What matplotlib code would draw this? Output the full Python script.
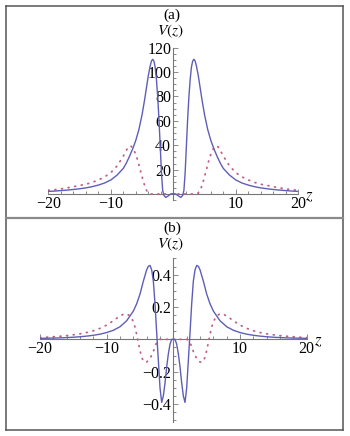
import matplotlib
matplotlib.use("Agg")
import matplotlib.pyplot as plt
from matplotlib.lines import Line2D
from matplotlib.ticker import MultipleLocator, FixedLocator, FuncFormatter

plt.rcParams['font.family'] = ['Liberation Serif', 'DejaVu Serif']
plt.rcParams['mathtext.fontset'] = 'stix'

# ---------------- data ----------------
z_a = [-20, -19, -18, -17, -16, -15, -14, -13, -12, -11, -10, -9, -8, -7.5, -7, -6.5, -6,
       -5.5, -5, -4.6, -4.3, -4, -3.7, -3.5, -3.3, -3.1, -2.9, -2.7, -2.5, -2.3, -2.1,
       -1.9, -1.7, -1.5, -1.2, -0.8, -0.4, 0, 0.4, 0.8, 1.2, 1.5, 1.7, 1.9, 2.1, 2.3,
       2.5, 2.7, 2.9, 3.1, 3.3, 3.5, 3.7, 4, 4.3, 4.6, 5, 5.5, 6, 6.5, 7, 7.5, 8, 9,
       10, 11, 12, 13, 14, 15, 16, 17, 18, 19, 20]
solid_a = [2.1, 2.4, 2.8, 3.2, 3.7, 4.3, 5.0, 6.0, 7.3, 9.0, 11.5, 15.5, 21, 25.5, 31,
           37, 44, 53, 65, 77, 87, 97, 105, 109, 110.5, 109, 104, 94, 80, 62, 40,
           18, 3, -1.2, -2.8, -1.5, 0, 0.3, 0, -1.5, -2.8, -1.2, 3, 18, 40, 62,
           80, 94, 104, 109, 110.5, 109, 105, 97, 87, 77, 65, 53, 44, 37, 31, 25.5, 21, 15.5,
           11.5, 9.0, 7.3, 6.0, 5.0, 4.3, 3.7, 3.2, 2.8, 2.4, 2.1]

zd_a = [-20, -19, -18, -17, -16, -15, -14, -13, -12, -11, -10, -9, -8.5, -8, -7.6, -7.2,
        -6.8, -6.4, -6, -5.6, -5.2, -4.8, -4.4, -4, -3.6, -2, 0, 2, 3.6, 4, 4.4, 4.8,
        5.2, 5.6, 6, 6.4, 6.8, 7.2, 7.6, 8, 8.5, 9, 10, 11, 12, 13, 14, 15, 16, 17,
        18, 19, 20]
dotted_a = [3.0, 3.5, 4.2, 5.0, 6.0, 7.0, 8.0, 9.5, 11.5, 14, 17.5, 23, 27, 31, 35, 38.5,
            39.5, 37, 32.5, 26, 18, 10.5, 4, 0.8, 0, 0, 0, 0, 0, 0.8, 4, 10.5,
            18, 26, 32.5, 37, 39.5, 38.5, 35, 31, 27, 23, 17.5, 14, 11.5, 9.5, 8.0, 7.0, 6.0, 5.0,
            4.2, 3.5, 3.0]

z_b = [-20, -19, -18, -17, -16, -15, -14, -13, -12, -11, -10, -9, -8, -7, -6, -5.5, -5,
       -4.5, -4, -3.75, -3.5, -3.25, -3, -2.75, -2.5, -2.25, -2, -1.75, -1.5, -1.25, -1,
       -0.75, -0.5, -0.25, 0, 0.25, 0.5, 0.75, 1, 1.25, 1.5, 1.75, 2, 2.25, 2.5, 2.75,
       3, 3.25, 3.5, 3.75, 4, 4.5, 5, 5.5, 6, 7, 8, 9, 10, 11, 12, 13, 14, 15, 16, 17,
       18, 19, 20]
solid_b = [0.006, 0.007, 0.008, 0.009, 0.011, 0.013, 0.016, 0.020, 0.025, 0.032, 0.042,
           0.056, 0.078, 0.115, 0.175, 0.22, 0.28, 0.36, 0.43, 0.452, 0.457, 0.43, 0.36,
           0.22, 0.04, -0.13, -0.30, -0.39, -0.35, -0.27, -0.17, -0.09, -0.03, 0, 0,
           0, -0.03, -0.09, -0.17, -0.27, -0.35, -0.39, -0.30, -0.13, 0.04, 0.22,
           0.36, 0.43, 0.457, 0.452, 0.43, 0.36, 0.28, 0.22, 0.175, 0.115, 0.078, 0.056,
           0.042, 0.032, 0.025, 0.020, 0.016, 0.013, 0.011, 0.009, 0.008, 0.007, 0.006]

zd_b = [-20, -19, -18, -17, -16, -15, -14, -13, -12, -11, -10, -9, -8, -7.5, -7, -6.5,
        -6, -5.75, -5.5, -5.25, -5, -4.75, -4.5, -4.25, -4, -3.5, -3, -2.75, -2.5, -2.25,
        -2, 0, 2, 2.25, 2.5, 2.75, 3, 3.5, 4, 4.25, 4.5, 4.75, 5, 5.25, 5.5, 5.75, 6,
        6.5, 7, 7.5, 8, 9, 10, 11, 12, 13, 14, 15, 16, 17, 18, 19, 20]
dotted_b = [0.011, 0.013, 0.016, 0.019, 0.023, 0.028, 0.034, 0.042, 0.053, 0.068, 0.088,
            0.115, 0.145, 0.155, 0.158, 0.145, 0.11, 0.075, 0.03, -0.02, -0.07, -0.11,
            -0.135, -0.142, -0.14, -0.12, -0.075, -0.045, -0.02, -0.005,
            0, 0, 0, -0.005, -0.02, -0.045, -0.075, -0.12, -0.14, -0.142, -0.135, -0.11,
            -0.07, -0.02, 0.03, 0.075, 0.11, 0.145, 0.158, 0.155, 0.145, 0.115, 0.088,
            0.068, 0.053, 0.042, 0.034, 0.028, 0.023, 0.019, 0.016, 0.013, 0.011]

xticks = [-20, -10, 10, 20]
yticks_a = [20, 40, 60, 80, 100, 120]
yticks_b = [-0.4, -0.2, 0.2, 0.4]

# ---------------- figure ----------------
W, H = 350, 436
fig = plt.figure(figsize=(W / 100, H / 100), dpi=100)

BLUE = '#5e5eb8'
RED = '#c0608a'
AXC = '#777777'
DOT = (0, (0.5, 3.2))


def fx(px):
    return px / W


def fy(py):
    return 1 - py / H


def setup(ax, ylim, yticks, yminor, fmt):
    ax.set_xlim(-20, 20)
    ax.set_ylim(*ylim)
    for s in ('top', 'right'):
        ax.spines[s].set_visible(False)
    ax.spines['left'].set_position(('data', 0))
    ax.spines['bottom'].set_position(('data', 0))
    for s in ('left', 'bottom'):
        ax.spines[s].set_color(AXC)
        ax.spines[s].set_linewidth(0.8)
    ax.patch.set_visible(False)
    ax.xaxis.set_major_locator(FixedLocator(xticks))
    ax.xaxis.set_minor_locator(MultipleLocator(2))
    ax.yaxis.set_major_locator(FixedLocator(yticks))
    ax.yaxis.set_minor_locator(MultipleLocator(yminor))
    ax.tick_params(which='both', direction='in', color=AXC, width=0.6,
                   labelsize=11.5)
    ax.tick_params(which='major', length=3.5, pad=1.5)
    ax.tick_params(which='minor', length=2)
    ax.yaxis.set_major_formatter(FuncFormatter(fmt))
    ax.xaxis.set_major_formatter(FuncFormatter(lambda v, p: f"{v:.0f}".replace('-', '\u2212')))


# top panel
ax1 = fig.add_axes([fx(48.3), fy(200.1), fx(250), (200.1 - 47.7) / H])
ax1.plot(zd_a, dotted_a, color=RED, lw=1.3, linestyle=DOT,
         dash_capstyle='round', zorder=3)
ax1.plot(z_a, solid_a, color=BLUE, lw=1.0, zorder=4)
setup(ax1, (-5, 120), yticks_a, 5, lambda v, p: f"{v:.0f}")

# bottom panel
ax2 = fig.add_axes([fx(40), fy(421.8), fx(266.7), (421.8 - 258.5) / H])
ax2.plot(zd_b, dotted_b, color=RED, lw=1.3, linestyle=DOT,
         dash_capstyle='round', zorder=3)
ax2.plot(z_b, solid_b, color=BLUE, lw=1.0, zorder=4)
setup(ax2, (-0.51, 0.50), yticks_b, 0.05,
      lambda v, p: f"{v:.1f}".replace('-', '\u2212'))

# labels
fig.text(fx(172), fy(15), '(a)', ha='center', va='center', fontsize=11)
fig.text(fx(170), fy(31.5), '$V(z)$', ha='center', va='center', fontsize=11)
fig.text(fx(309), fy(196), '$z$', ha='center', va='center', fontsize=12)
fig.text(fx(172), fy(228), '(b)', ha='center', va='center', fontsize=11)
fig.text(fx(170), fy(244.5), '$V(z)$', ha='center', va='center', fontsize=11)
fig.text(fx(318), fy(341), '$z$', ha='center', va='center', fontsize=12)

# frame
FC = '#555555'
fig.add_artist(Line2D([fx(6.3), fx(6.3)], [fy(6.3), fy(429.5)], color=FC, lw=1.1))
fig.add_artist(Line2D([fx(343.3), fx(343.3)], [fy(6.3), fy(429.5)], color=FC, lw=1.1))
fig.add_artist(Line2D([fx(6.3), fx(343.3)], [fy(6.3), fy(6.3)], color=FC, lw=1.1))
fig.add_artist(Line2D([fx(6.3), fx(343.3)], [fy(429.5), fy(429.5)], color=FC, lw=1.1))
fig.add_artist(Line2D([fx(6.3), fx(343.3)], [fy(218), fy(218)], color='#8a8a8a', lw=1.6))

fig.savefig('out.png', dpi=100)
